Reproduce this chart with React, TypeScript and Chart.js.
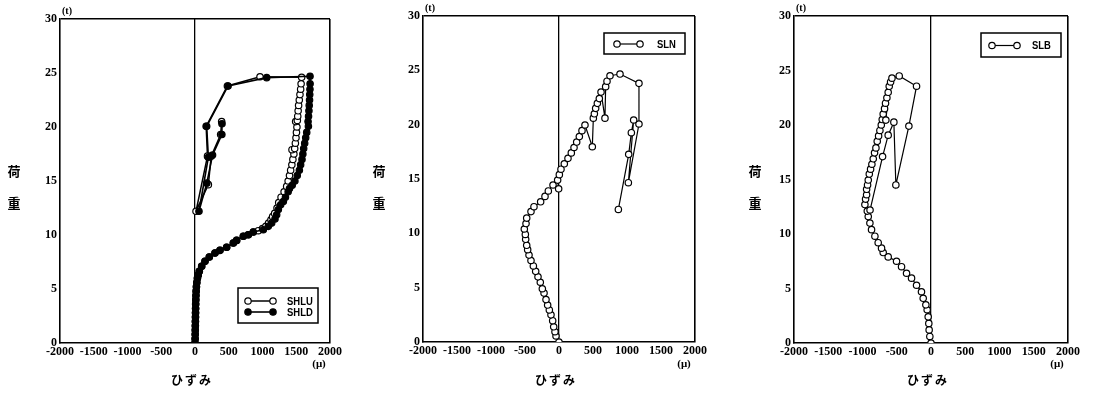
import React, { useEffect, useRef } from 'react';
import { Chart, registerables } from 'chart.js';

Chart.register(...registerables);

// ---- tick labels ----
const strainTicks = [-2000, -1500, -1000, -500, 0, 500, 1000, 1500, 2000];
const loadTicks = [0, 5, 10, 15, 20, 25, 30];

// ---- series: [strain (μ), load (t)] ----
const shluPoints: number[][] = [
  [0, 0], [2, 0.4], [3, 0.8], [4, 1.2], [5, 1.6], [6, 2.0], [7, 2.4], [8, 2.8], [9, 3.2], [10, 3.6],
  [12, 4.0], [14, 4.4], [17, 4.8], [21, 5.2], [27, 5.6], [36, 6.0], [48, 6.3], [64, 6.64], [99, 7.1],
  [148, 7.56], [212, 7.96], [296, 8.33], [370, 8.58], [469, 8.86], [568, 9.26], [617, 9.5], [716, 9.88],
  [790, 10.03], [864, 10.28], [938, 10.4], [1000, 10.6], [1050, 10.8], [1090, 11.1], [1125, 11.4],
  [1150, 11.7], [1180, 12.0], [1215, 12.5], [1240, 13.0], [1275, 13.5], [1320, 14.0], [1358, 14.5],
  [1380, 15.0], [1400, 15.5], [1417, 16.0], [1435, 16.5], [1450, 17.0], [1465, 17.5], [1437, 17.9],
  [1477, 18.0], [1487, 18.5], [1496, 19.0], [1503, 19.5], [1510, 20.0], [1491, 20.5], [1516, 20.6],
  [1522, 21.0], [1528, 21.5], [1535, 22.0], [1545, 22.5], [1555, 23.0], [1565, 23.5], [1572, 24.0],
  [1580, 24.6], [963, 24.65], [480, 23.8], [165, 20.06], [185, 17.3], [15, 12.2], [198, 14.66],
  [240, 17.3], [380, 19.3], [395, 20.5],
];

const shldPoints: number[][] = [
  [0, 0], [2, 0.4], [3, 0.8], [4, 1.2], [5, 1.6], [6, 2.0], [7, 2.4], [8, 2.8], [9, 3.2], [10, 3.6],
  [12, 4.0], [14, 4.4], [17, 4.8], [21, 5.2], [27, 5.6], [36, 6.0], [48, 6.3], [64, 6.64], [99, 7.1],
  [148, 7.56], [212, 7.96], [296, 8.33], [370, 8.58], [469, 8.86], [568, 9.26], [617, 9.5], [716, 9.88],
  [790, 10.03], [864, 10.28], [1012, 10.49], [1086, 10.8], [1136, 11.1], [1185, 11.48], [1210, 11.88],
  [1235, 12.35], [1269, 12.8], [1309, 13.1], [1340, 13.5], [1380, 14.0], [1400, 14.3], [1440, 14.6],
  [1480, 15.0], [1515, 15.5], [1546, 16.0], [1565, 16.5], [1585, 17.0], [1598, 17.5], [1610, 18.0],
  [1625, 18.5], [1640, 19.0], [1655, 19.5], [1680, 20.06], [1675, 20.5], [1682, 21.0], [1688, 21.5],
  [1692, 22.0], [1697, 22.5], [1700, 23.0], [1703, 23.5], [1705, 24.0], [1704, 24.7], [1062, 24.57],
  [490, 23.8], [173, 20.06], [198, 17.2], [59, 12.2], [175, 14.8], [260, 17.4], [398, 19.3], [400, 20.3],
];

const slnPoints: number[][] = [
  [0, 0], [-44, 0.55], [-59, 0.95], [-78, 1.4], [-93, 1.96], [-118, 2.5], [-142, 2.95], [-167, 3.4],
  [-191, 3.9], [-220, 4.5], [-245, 4.9], [-275, 5.5], [-309, 6.0], [-343, 6.5], [-377, 7.0], [-412, 7.5],
  [-441, 8.0], [-461, 8.5], [-475, 8.9], [-490, 9.45], [-495, 9.9], [-510, 10.4], [-485, 10.9],
  [-475, 11.4], [-412, 12.0], [-368, 12.45], [-270, 12.9], [-206, 13.4], [-157, 13.9], [-88, 14.45],
  [-5, 14.1], [-20, 14.9], [5, 15.4], [29, 15.9], [78, 16.4], [132, 16.9], [181, 17.4], [221, 17.9],
  [260, 18.4], [299, 18.9], [338, 19.45], [382, 19.97], [490, 17.97], [505, 20.6], [520, 21.0],
  [539, 21.5], [564, 21.96], [593, 22.4], [618, 23.0], [676, 20.6], [686, 23.5], [706, 24.0], [750, 24.5],
  [897, 24.66], [1176, 23.8], [1176, 20.06], [1020, 14.66], [1098, 20.43], [1064, 19.26], [1025, 17.27],
  [873, 12.2],
];

const slbPoints: number[][] = [
  [0, 0], [-17, 0.6], [-27, 1.2], [-32, 1.8], [-41, 2.4], [-56, 3.05], [-75, 3.5], [-114, 4.1],
  [-139, 4.7], [-211, 5.3], [-284, 5.95], [-357, 6.4], [-430, 7.0], [-503, 7.5], [-625, 7.9],
  [-698, 8.3], [-722, 8.7], [-771, 9.2], [-819, 9.8], [-868, 10.4], [-892, 11.0], [-916, 11.6],
  [-930, 12.1], [-965, 12.7], [-955, 13.2], [-940, 13.6], [-940, 14.1], [-926, 14.5], [-916, 14.95],
  [-901, 15.5], [-882, 15.95], [-863, 16.4], [-843, 16.9], [-824, 17.45], [-804, 17.9], [-785, 18.5],
  [-765, 19.0], [-746, 19.5], [-726, 20.0], [-712, 20.5], [-698, 21.0], [-678, 21.5], [-664, 22.0],
  [-644, 22.5], [-625, 23.0], [-659, 20.45], [-610, 23.55], [-590, 23.95], [-570, 24.3], [-464, 24.5],
  [-211, 23.56], [-323, 19.9], [-513, 14.5], [-542, 20.26], [-625, 19.07], [-707, 17.1], [-890, 12.2],
];

type Series = { label: string; points: number[][]; filled: boolean; lineWidth: number; order: number };
type Panel = {
  left: number; width: number;
  padTop: number; padRight: number; padBottom: number; yWidth: number;
  series: Series[];
  legend: { x: number; y: number; w: number; h: number; lineX0: number; lineX1: number; textX: number; rows: number[] };
  kanjiX: number;
};

const panels: Panel[] = [
  {
    left: 0, width: 364, padTop: 19, padRight: 34, padBottom: 25, yWidth: 60,
    series: [
      { label: 'SHLU', points: shluPoints, filled: false, lineWidth: 1.5, order: 1 },
      { label: 'SHLD', points: shldPoints, filled: true, lineWidth: 1.6, order: 0 },
    ],
    legend: { x: 238, y: 288, w: 80, h: 35, lineX0: 10, lineX1: 35, textX: 49, rows: [301, 312] },
    kanjiX: 14,
  },
  {
    left: 364, width: 366, padTop: 16, padRight: 35, padBottom: 26, yWidth: 59,
    series: [{ label: 'SLN', points: slnPoints, filled: false, lineWidth: 1.2, order: 0 }],
    legend: { x: 240, y: 33, w: 81, h: 21, lineX0: 13, lineX1: 36, textX: 53, rows: [44] },
    kanjiX: 15,
  },
  {
    left: 730, width: 363, padTop: 16, padRight: 25, padBottom: 25, yWidth: 64,
    series: [{ label: 'SLB', points: slbPoints, filled: false, lineWidth: 1.2, order: 0 }],
    legend: { x: 251, y: 33, w: 80, h: 24, lineX0: 11, lineX1: 36, textX: 51, rows: [45.5] },
    kanjiX: 25,
  },
];

const tickFont = { family: '"Liberation Serif", serif', size: 12, weight: 'bold' as const };

const decor = {
  id: 'decor',
  afterDraw(chart: any, _args: any, opts: any) {
    const ctx = chart.ctx as CanvasRenderingContext2D;
    const ca = chart.chartArea;
    ctx.save();
    ctx.fillStyle = '#000';
    ctx.strokeStyle = '#000';
    ctx.textBaseline = 'middle';
    // unit (t)
    ctx.font = 'bold 10px "Liberation Serif"';
    ctx.textAlign = 'left';
    ctx.fillText('(t)', ca.left + 2, ca.top - 8);
    // unit (μ)
    ctx.font = 'bold 11px "Liberation Serif"';
    ctx.textAlign = 'center';
    ctx.fillText('(μ)', ca.right - 11, 364);
    // y title 荷 重
    ctx.font = 'bold 13px "Noto Sans CJK JP"';
    ctx.fillText('荷', opts.kanjiX, 171);
    ctx.fillText('重', opts.kanjiX, 203);
    // x title ひずみ
    const cx = (ca.left + ca.right) / 2 - 4;
    ctx.font = 'bold 12px "Noto Sans CJK JP"';
    ['ひ', 'ず', 'み'].forEach((c, i) => ctx.fillText(c, cx + (i - 1) * 14, 380));
    // legend
    const L = opts.legend;
    ctx.lineWidth = 1.5;
    ctx.strokeRect(L.x, L.y, L.w, L.h);
    const ds = chart.data.datasets;
    ds.forEach((d: any, i: number) => {
      const y = L.rows[i];
      ctx.beginPath();
      ctx.moveTo(L.x + L.lineX0, y);
      ctx.lineTo(L.x + L.lineX1, y);
      ctx.lineWidth = d.borderWidth;
      ctx.strokeStyle = '#000';
      ctx.stroke();
      [L.x + L.lineX0, L.x + L.lineX1].forEach((px) => {
        ctx.beginPath();
        ctx.arc(px, y, d.pointRadius, 0, Math.PI * 2);
        ctx.fillStyle = d.pointBackgroundColor;
        ctx.fill();
        ctx.lineWidth = d.pointBorderWidth;
        ctx.stroke();
      });
      ctx.fillStyle = '#000';
      ctx.font = 'bold 11px "Liberation Sans"';
      ctx.textAlign = 'left';
      ctx.save();
      ctx.translate(L.x + L.textX, y + 0.5);
      ctx.scale(0.86, 1);
      ctx.fillText(d.label, 0, 0);
      ctx.restore();
    });
    ctx.restore();
  },
};

function PanelChart({ panel }: { panel: Panel }) {
  const ref = useRef<HTMLCanvasElement>(null);
  useEffect(() => {
    const chart = new Chart(ref.current as HTMLCanvasElement, {
      type: 'scatter',
      data: {
        datasets: panel.series.map((s) => ({
          label: s.label,
          data: s.points.map(([x, y]) => ({ x, y })),
          showLine: true,
          borderColor: '#000',
          borderWidth: s.lineWidth,
          pointRadius: 3.2,
          pointBackgroundColor: s.filled ? '#000' : '#fff',
          pointBorderColor: '#000',
          pointBorderWidth: 1.2,
          order: s.order,
          tension: 0,
        })),
      },
      options: {
        animation: false,
        responsive: false,
        events: [],
        layout: { padding: { left: 0, top: panel.padTop, right: panel.padRight, bottom: panel.padBottom } },
        plugins: {
          legend: { display: false },
          tooltip: { enabled: false },
          decor: { legend: panel.legend, kanjiX: panel.kanjiX },
        } as any,
        scales: {
          x: {
            type: 'linear',
            min: -2000,
            max: 2000,
            afterBuildTicks: (scale: any) => {
              scale.ticks = strainTicks.map((v) => ({ value: v }));
            },
            afterFit: (scale: any) => {
              scale.height = 30;
              scale.paddingLeft = 0;
              scale.paddingRight = 0;
            },
            ticks: {
              color: '#000',
              font: tickFont,
              padding: 2,
              maxRotation: 0,
              autoSkip: false,
              callback: (v: any) => String(v),
            },
            grid: {
              drawTicks: false,
              color: (c: any) => (c.tick && (c.tick.value === 0 || c.tick.value === 2000) ? '#000' : 'rgba(0,0,0,0)'),
              lineWidth: (c: any) => (c.tick && c.tick.value === 0 ? 1.3 : 1.6),
            },
            border: { display: true, color: '#000', width: 1.6 },
          },
          y: {
            type: 'linear',
            min: 0,
            max: 30,
            afterBuildTicks: (scale: any) => {
              scale.ticks = loadTicks.map((v) => ({ value: v }));
            },
            afterFit: (scale: any) => {
              scale.width = panel.yWidth;
              scale.paddingTop = 0;
              scale.paddingBottom = 0;
            },
            ticks: {
              color: '#000',
              font: tickFont,
              padding: 3,
              autoSkip: false,
              callback: (v: any) => String(v),
            },
            grid: {
              drawTicks: false,
              color: (c: any) => (c.tick && c.tick.value === 30 ? '#000' : 'rgba(0,0,0,0)'),
              lineWidth: 1.6,
            },
            border: { display: true, color: '#000', width: 1.6 },
          },
        },
      } as any,
      plugins: [decor as any],
    });
    return () => chart.destroy();
  }, [panel]);
  return (
    <canvas
      ref={ref}
      width={panel.width}
      height={398}
      style={{ position: 'absolute', left: panel.left, top: 0, width: panel.width, height: 398 }}
    />
  );
}

export default function App() {
  return (
    <div style={{ position: 'absolute', left: 0, top: 0, width: 1093, height: 398, background: '#fff', overflow: 'hidden' }}>
      {panels.map((p, i) => (
        <PanelChart key={i} panel={p} />
      ))}
    </div>
  );
}
